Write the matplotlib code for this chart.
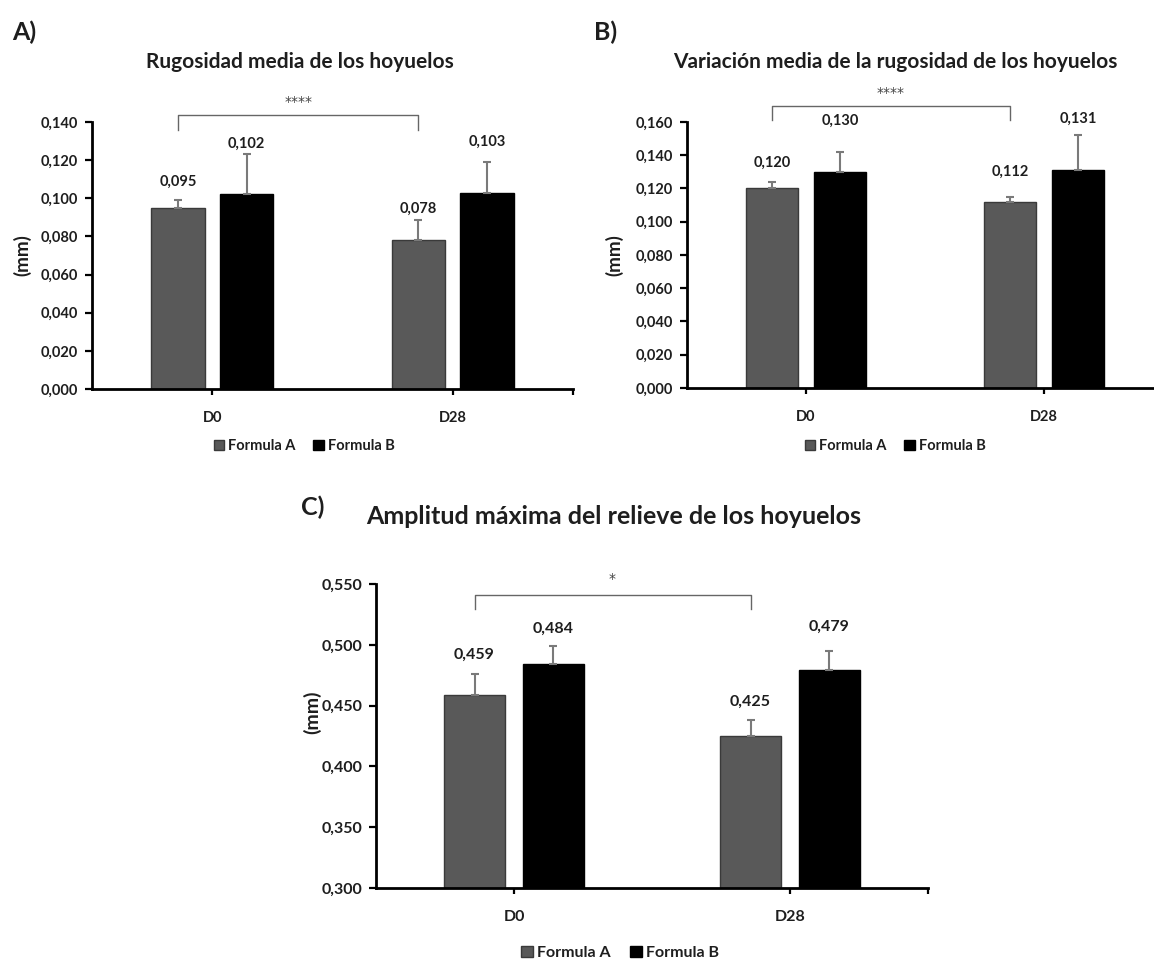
import matplotlib
matplotlib.use("Agg")
import matplotlib.pyplot as plt
from matplotlib.patches import Patch
from matplotlib.ticker import FuncFormatter
import numpy as np

# ---- data -------------------------------------------------------------
categories = ["D0", "D28"]
series_names = ["Formula A", "Formula B"]

rug_a = [0.095, 0.078]
rug_b = [0.102, 0.103]
rug_err_a = [0.004, 0.0105]
rug_err_b = [0.021, 0.016]

var_a = [0.120, 0.112]
var_b = [0.130, 0.131]
var_err_a = [0.004, 0.003]
var_err_b = [0.012, 0.021]

amp_a = [0.459, 0.425]
amp_b = [0.484, 0.479]
amp_err_a = [0.017, 0.0135]
amp_err_b = [0.015, 0.016]

titles = ["Rugosidad media de los hoyuelos",
          "Variación media de la rugosidad de los hoyuelos",
          "Amplitud máxima del relieve de los hoyuelos"]
panel_tags = ["A)", "B)", "C)"]
stars = ["****", "****", "*"]

# ---- style ------------------------------------------------------------
W, H = 1154, 963
FONT = ["Lato", "DejaVu Sans"]
plt.rcParams["font.family"] = FONT
GRAY = "#595959"
EDGE = "#3a3a3a"
ERR = "#7a7a7a"
TXT = "#1e1e1e"

fig = plt.figure(figsize=(W / 100, H / 100), dpi=100)


def px_axes(x0, y0, x1, y1):
    return fig.add_axes([x0 / W, 1 - y1 / H, (x1 - x0) / W, (y1 - y0) / H])


def ftext(x, y, s, **kw):
    fig.text(x / W, 1 - y / H, s, color=TXT, **kw)


comma = FuncFormatter(lambda v, p: f"{v:.3f}".replace(".", ","))


def draw_panel(ax, va, vb, ea, eb, ylim, ystep, label_heights, bracket,
               fs_tick=10.5, fs_val=10.5):
    x = np.arange(len(categories))
    width, off = 0.222, 0.143
    ax.bar(x - off, va, width, color=GRAY, edgecolor=EDGE, linewidth=1,
           zorder=2)
    ax.bar(x + off, vb, width, color="black", edgecolor="black", linewidth=1,
           zorder=2)
    for xs, vals, errs in ((x - off, va, ea), (x + off, vb, eb)):
        ax.errorbar(xs, vals, yerr=[np.zeros(len(errs)), errs], fmt="none",
                    ecolor=ERR, elinewidth=1.5, capsize=3, capthick=1.5,
                    zorder=3)
    # value labels
    for xs, vals, hs in ((x - off, va, label_heights[0]),
                         (x + off, vb, label_heights[1])):
        for xi, v, h in zip(xs, vals, hs):
            ax.text(xi, h, f"{v:.3f}".replace(".", ","), ha="center",
                    va="center", fontsize=fs_val, fontweight="bold",
                    color=TXT)
    # significance bracket between the Formula A bars
    y_top, y_tip, y_star, mark = bracket
    x0, x1 = x[0] - off, x[1] - off
    ax.plot([x0, x0, x1, x1], [y_tip, y_top, y_top, y_tip], color="#666666",
            lw=1, clip_on=False, zorder=4)
    ax.text((x0 + x1) / 2, y_star, mark, ha="center", va="center",
            fontsize=10, family="DejaVu Sans", color="#444444",
            clip_on=False)

    ax.set_xlim(-0.5, 1.5)
    ax.set_ylim(*ylim)
    ax.set_yticks(np.arange(ylim[0], ylim[1] + ystep / 2, ystep))
    ax.yaxis.set_major_formatter(comma)
    ax.set_xticks([0, 1, 1.5])
    ax.set_xticklabels(categories + [""])
    for s in ("top", "right"):
        ax.spines[s].set_visible(False)
    for s in ("left", "bottom"):
        ax.spines[s].set_linewidth(2)
    ax.tick_params(axis="y", direction="out", length=5, width=1.6, pad=5,
                   labelsize=fs_tick)
    ax.tick_params(axis="x", direction="out", length=4, width=1.6, pad=12,
                   labelsize=fs_tick)
    for lab in ax.get_xticklabels() + ax.get_yticklabels():
        lab.set_fontweight("bold")
        lab.set_color(TXT)


def legend_at(xc, yc, fs):
    handles = [Patch(facecolor=GRAY, edgecolor=EDGE, linewidth=1),
               Patch(facecolor="black", edgecolor="black")]
    leg = fig.legend(handles, series_names, loc="center",
                     bbox_to_anchor=(xc / W, 1 - yc / H), ncol=2,
                     frameon=False, handlelength=0.75, handleheight=0.75,
                     handletextpad=0.25, columnspacing=1.2,
                     prop={"weight": "bold", "size": fs})
    for t in leg.get_texts():
        t.set_color(TXT)


# ---- panel A ----------------------------------------------------------
axA = px_axes(92, 122, 573, 389)
draw_panel(axA, rug_a, rug_b, rug_err_a, rug_err_b, (0, 0.14), 0.02,
           ([0.1085, 0.0944], [0.1285, 0.1295]),
           (0.1437, 0.1358, 0.1505, stars[0]))
ftext(24, 32, panel_tags[0], fontsize=18, fontweight="bold", ha="center",
      va="center")
ftext(300, 62, titles[0], fontsize=15, fontweight="bold", ha="center",
      va="center")
ftext(22, 255, "(mm)", fontsize=13.5, fontweight="bold", rotation=90,
      ha="center", va="center")
legend_at(304, 446, 10.5)

# ---- panel B ----------------------------------------------------------
axB = px_axes(687, 122, 1163, 388)
draw_panel(axB, var_a, var_b, var_err_a, var_err_b, (0, 0.16), 0.02,
           ([0.1353, 0.1299], [0.1606, 0.1618]),
           (0.1696, 0.1612, 0.1775, stars[1]))
ftext(606, 32, panel_tags[1], fontsize=18, fontweight="bold", ha="center",
      va="center")
ftext(895, 62, titles[1], fontsize=15, fontweight="bold", ha="center",
      va="center")
ftext(614, 255, "(mm)", fontsize=13.5, fontweight="bold", rotation=90,
      ha="center", va="center")
legend_at(895, 446, 10.5)

# ---- panel C ----------------------------------------------------------
axC = px_axes(376, 584, 928, 888)
draw_panel(axC, amp_a, amp_b, amp_err_a, amp_err_b, (0.3, 0.55), 0.05,
           ([0.4921, 0.4530], [0.5131, 0.5145]),
           (0.5413, 0.5295, 0.5540, stars[2]), fs_tick=11.5, fs_val=11.5)
ftext(313, 507, panel_tags[2], fontsize=18, fontweight="bold", ha="center",
      va="center")
ftext(614, 516, titles[2], fontsize=18, fontweight="bold", ha="center",
      va="center")
ftext(312, 712, "(mm)", fontsize=14, fontweight="bold", rotation=90,
      ha="center", va="center")
legend_at(620, 953, 11.5)

fig.savefig("out.png", dpi=100, facecolor="white")
